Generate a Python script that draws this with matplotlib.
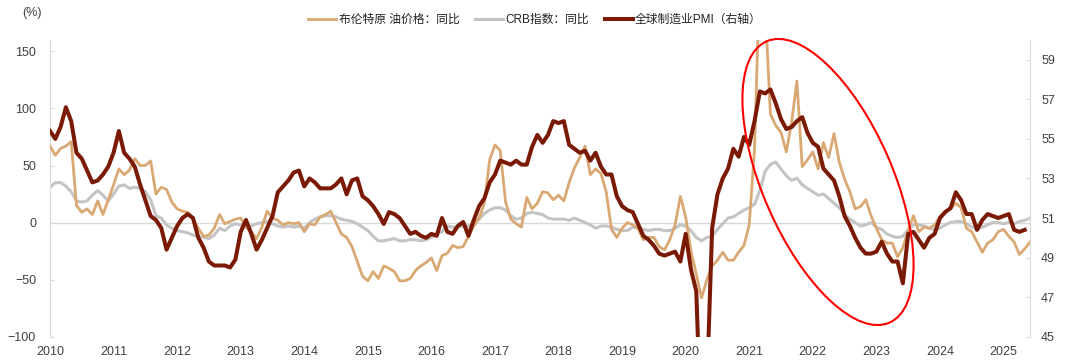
import numpy as np
import matplotlib.pyplot as plt
from matplotlib.patches import Ellipse

plt.rcParams['font.family'] = ['Liberation Sans', 'Noto Sans CJK SC', 'DejaVu Sans']

# monthly data, 2010-01 onward
years = [str(y) for y in range(2010, 2026)]

brent_yoy = [
    67, 59, 65, 67, 71, 15, 9, 12, 7, 19, 7, 20,
    33, 47, 42, 46, 56, 50, 50, 54, 25, 31, 29, 18,
    12, 10, 9, 3, -5, -12, -11, -5, 7, -1, 1, 3,
    4, -4, -8, -14, -4, 10, 4, 2, -2, 0, -1, 0,
    -8, -1, -2, 5, 7, 10, 0, -10, -13, -21, -34, -47,
    -51, -43, -49, -38, -40, -43, -51, -51, -49, -42, -38, -35,
    -31, -42, -29, -27, -20, -22, -21, -12, -3, 4, 17, 55,
    68, 63, 18, 3, -1, -4, 22, 12, 17, 27, 26, 20,
    24, 19, 35, 48, 57, 67, 42, 47, 43, 27, -6, -13,
    -5, 0, -2, -5, -15, -13, -13, -21, -24, -15, -2, 23,
    5, -25, -45, -66, -50, -38, -33, -26, -33, -33, -26, -20,
    -2, 65, 220, 190, 95, 85, 79, 62, 88, 124, 49, 55,
    62, 47, 70, 57, 78, 53, 38, 27, 12, 14, 20, 6,
    -5, -15, -18, -18, -30, -22, -7, 6, -8, -4, -5, -2,
    5, 10, 12, 17, 13, -5, -8, -17, -26, -18, -15, -8,
    -6, -12, -17, -28, -23, -17,
]

crb_yoy = [
    31, 35, 35, 32, 27, 19, 18, 19, 24, 28, 24, 19,
    25, 32, 33, 30, 31, 30, 27, 20, 6, 4, -2, -5,
    -7, -8, -9, -11, -12, -13, -14, -11, -5, -7, -3, -1,
    -2, -4, -3, -1, 0, 1, -1, -3, -4, -3, -4, -3,
    -5, 0, 3, 5, 6, 6, 5, 3, 2, 1, -1, -4,
    -7, -12, -16, -16, -15, -14, -16, -16, -15, -15, -16, -15,
    -13, -10, -8, -3, -4, -4, -3, -3, -1, 3, 8, 11,
    13, 13, 11, 6, 3, 4, 8, 9, 8, 7, 4, 3,
    3, 3, 2, 4, 2, 0, -2, -5, -3, -3, -4, -6,
    -7, -7, -4, -5, -6, -7, -6, -6, -7, -7, -5, -2,
    -3, -7, -13, -16, -13, -12, -6, -1, 4, 5, 8, 11,
    13, 16, 28, 45, 51, 53, 47, 41, 37, 39, 33, 30,
    27, 24, 25, 21, 17, 13, 7, 3, 0, -3, -2, 0,
    -4, -6, -10, -12, -13, -12, -6, -2, -2, -3, -5, -6,
    -5, -2, 0, 1, 1, -1, -4, -5, -4, -2, 0, 0,
    -1, 0, -1, 1, 2, 4,
]

pmi = [
    55.4, 55.0, 55.6, 56.6, 55.9, 54.3, 54.0, 53.4, 52.8, 52.9, 53.2, 53.6,
    54.3, 55.4, 54.3, 54.0, 53.6, 52.7, 51.9, 51.1, 50.9, 50.5, 49.4, 50.0,
    50.6, 51.0, 51.2, 51.0, 50.0, 49.5, 48.8, 48.6, 48.6, 48.6, 48.5, 48.9,
    50.3, 50.9, 50.2, 49.4, 49.9, 50.5, 51.1, 52.3, 52.6, 52.9, 53.3, 53.4,
    52.6, 53.0, 52.8, 52.5, 52.5, 52.5, 52.7, 53.0, 52.2, 52.9, 53.0, 52.1,
    51.9, 51.6, 51.2, 50.7, 51.3, 51.2, 51.0, 50.6, 50.2, 50.3, 50.1, 50.0,
    50.2, 50.1, 51.0, 50.3, 50.2, 50.6, 50.8, 50.1, 50.9, 51.6, 52.0, 52.8,
    53.2, 53.9, 53.8, 53.7, 53.9, 53.7, 53.7, 54.6, 55.2, 54.8, 55.2, 55.9,
    55.8, 55.9, 54.7, 54.5, 54.3, 54.4, 53.9, 54.3, 53.6, 53.2, 53.2, 52.1,
    51.6, 51.4, 51.3, 50.7, 50.1, 49.9, 49.6, 49.2, 49.1, 49.2, 49.3, 48.8,
    50.2, 48.4, 47.3, 39.6, 42.4, 50.5, 52.2, 53.0, 53.5, 54.5, 54.1, 55.1,
    54.7, 55.9, 57.4, 57.3, 57.5, 56.8, 56.0, 55.5, 55.6, 55.9, 56.1, 55.3,
    54.8, 54.6, 53.5, 53.2, 52.9, 52.1, 51.1, 50.6, 50.0, 49.5, 49.2, 49.2,
    49.3, 49.8, 49.2, 48.8, 48.8, 47.7, 50.2, 50.3, 49.9, 49.5, 50.0, 50.2,
    51.0, 51.3, 51.5, 52.3, 51.9, 51.2, 51.2, 50.4, 50.9, 51.2, 51.1, 51.0,
    51.1, 51.2, 50.4, 50.3, 50.4,
]

c_brent = '#D9A873'
c_crb = '#C4C4C4'
c_pmi = '#7A1A05'
c_axis = '#D9D9D9'
c_text = '#404040'

fig = plt.figure(figsize=(10.8, 3.63), dpi=100)
ax = fig.add_axes([50 / 1080, 26.3 / 363, 980 / 1080, 296.7 / 363])
ax2 = ax.twinx()

x_long = np.arange(len(brent_yoy))
x_pmi = np.arange(len(pmi))

ax.axhline(0, color=c_axis, lw=1, zorder=1)
l1, = ax.plot(x_long, brent_yoy, color=c_brent, lw=2.0, zorder=3, label='布伦特原 油价格：同比')
l2, = ax.plot(x_long, crb_yoy, color=c_crb, lw=2.2, zorder=2, label='CRB指数：同比')
l3, = ax2.plot(x_pmi, pmi, color=c_pmi, lw=2.9, zorder=4, label='全球制造业PMI（右轴）')

ax.set_xlim(0, len(brent_yoy) - 1)
ax.set_ylim(-100, 160)
ax2.set_ylim(45, 60)
ax.set_yticks([-100, -50, 0, 50, 100, 150])
ax2.set_yticks([45, 47, 49, 51, 53, 55, 57, 59])
ax.set_xticks(np.arange(len(years)) * 12)
ax.set_xticklabels(years)

for a in (ax, ax2):
    for s in ('top', 'bottom'):
        a.spines[s].set_visible(False)
ax.spines['right'].set_visible(False)
ax2.spines['left'].set_visible(False)
ax.spines['left'].set_color(c_axis)
ax2.spines['right'].set_color(c_axis)

ax.tick_params(axis='x', length=0, pad=7, labelsize=9, colors=c_text)
ax.tick_params(axis='y', direction='in', length=3, color=c_axis, labelsize=9,
               labelcolor=c_text, pad=10)
ax2.tick_params(axis='y', direction='in', length=3, color=c_axis, labelsize=9,
                labelcolor=c_text, pad=8)

fig.text(32 / 1080, 1 - 13 / 363, '(%)', ha='center', va='center', fontsize=9, color=c_text)

fig.legend(handles=[l1, l2, l3], loc='center', bbox_to_anchor=(535 / 1080, 1 - 20 / 363),
           ncol=3, frameon=False, fontsize=8.5, handlelength=2.4, handletextpad=0.2,
           columnspacing=1.3, labelcolor='#222222')

# red highlight ellipse (figure inches)
ell = Ellipse((8.28, 1.81), 3.07, 1.30, angle=-66.4, transform=fig.dpi_scale_trans,
              fill=False, edgecolor='#FF0000', lw=1.5, zorder=10)
fig.add_artist(ell)

fig.savefig('out.png', dpi=100)
